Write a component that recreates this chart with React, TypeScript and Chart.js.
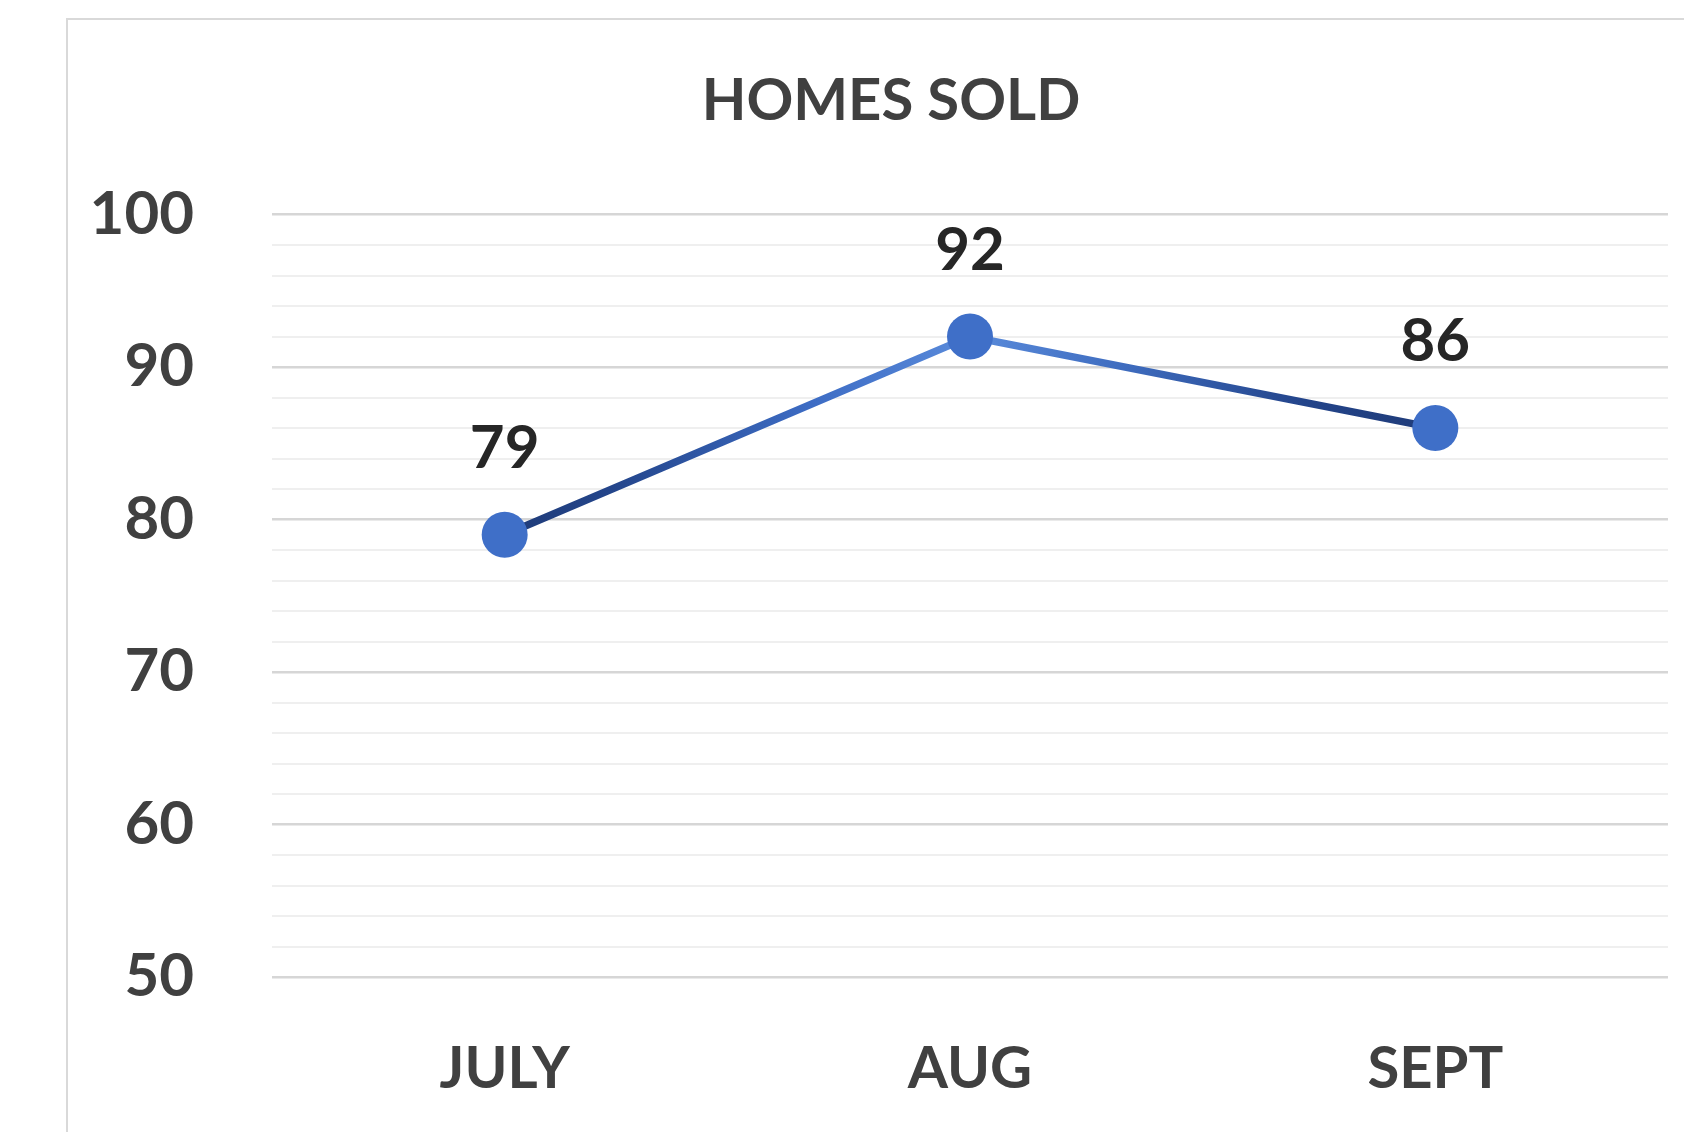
import React, { useEffect, useRef } from 'react';
import { Chart, registerables } from 'chart.js';

Chart.register(...registerables);

// ---- data ----
const TITLE = 'HOMES SOLD';
const MONTHS = ['JULY', 'AUG', 'SEPT'];
const HOMES_SOLD = [79, 92, 86];
const Y_TICK_LABELS = [50, 60, 70, 80, 90, 100];
const Y_MIN = 50;
const Y_MAX = 100;
const MINOR_STEP = 2;

const FONT = "Lato, 'Noto Sans', sans-serif";

const dataLabels = {
  id: 'dataLabels',
  afterDatasetsDraw(chart: any) {
    const ctx = chart.ctx;
    const meta = chart.getDatasetMeta(0);
    ctx.save();
    ctx.font = `bold 60px ${FONT}`;
    ctx.fillStyle = '#262626';
    ctx.textAlign = 'center';
    ctx.textBaseline = 'alphabetic';
    meta.data.forEach((pt: any, i: number) => {
      ctx.fillText(String(HOMES_SOLD[i]), pt.x, pt.y - 67);
    });
    ctx.restore();
  },
};

export default function App() {
  const ref = useRef<HTMLCanvasElement | null>(null);

  useEffect(() => {
    if (!ref.current) return;
    const chart = new Chart(ref.current, {
      type: 'line',
      data: {
        labels: MONTHS,
        datasets: [
          {
            label: TITLE,
            data: HOMES_SOLD,
            borderWidth: 7.5,
            borderColor: (c: any) => {
              const ch = c.chart;
              const { ctx, chartArea, scales } = ch;
              if (!chartArea || !scales.x) return '#4472C4';
              const x0 = scales.x.getPixelForValue(0);
              const x1 = scales.x.getPixelForValue(MONTHS.length - 1);
              const g = ctx.createLinearGradient(x0, 0, x1, 0);
              g.addColorStop(0, '#1F3B78');
              g.addColorStop(0.12, '#24468C');
              g.addColorStop(0.33, '#3D6CC4');
              g.addColorStop(0.5, '#5A8BDB');
              g.addColorStop(0.66, '#3F6DC0');
              g.addColorStop(0.86, '#23448A');
              g.addColorStop(1, '#1F3B78');
              return g;
            },
            pointRadius: 23,
            pointHoverRadius: 23,
            pointBackgroundColor: '#3F6FC8',
            pointBorderColor: '#3F6FC8',
            pointBorderWidth: 0,
            tension: 0,
          },
        ],
      },
      options: {
        responsive: true,
        maintainAspectRatio: false,
        animation: false,
        layout: { padding: { top: 0, left: 0, right: 0, bottom: 0 } },
        plugins: {
          legend: { display: false },
          tooltip: { enabled: false },
          title: {
            display: true,
            text: TITLE,
            color: '#404040',
            font: { family: FONT, size: 58, weight: 'bold' },
            padding: { top: 46, bottom: 79 },
          },
        },
        scales: {
          x: {
            offset: true,
            grid: { display: false, drawTicks: false },
            border: { display: false },
            ticks: {
              padding: 57,
              color: '#404040',
              font: { family: FONT, size: 58, weight: 'bold' },
            },
            afterFit: (s: any) => {
              s.height = 155;
            },
          },
          y: {
            min: Y_MIN,
            max: Y_MAX,
            border: { display: false },
            grid: {
              drawTicks: false,
              color: (c: any) =>
                c.tick && Y_TICK_LABELS.includes(c.tick.value) ? '#D6D6D6' : '#EFEFEF',
              lineWidth: (c: any) =>
                c.tick && Y_TICK_LABELS.includes(c.tick.value) ? 2.5 : 2,
            },
            ticks: {
              stepSize: MINOR_STEP,
              autoSkip: false,
              padding: 78,
              color: '#404040',
              font: { family: FONT, size: 60, weight: 'bold' },
              callback: (v: any) => (Y_TICK_LABELS.includes(Number(v)) ? String(v) : ''),
            },
            afterFit: (s: any) => {
              s.width = 204;
            },
          },
          yRight: {
            position: 'right',
            display: true,
            grid: { display: false, drawTicks: false },
            border: { display: false },
            ticks: { display: false },
            afterFit: (s: any) => {
              s.width = 46;
            },
          },
        },
      } as any,
      plugins: [dataLabels],
    });
    return () => chart.destroy();
  }, []);

  return (
    <div
      style={{
        position: 'absolute',
        left: 0,
        top: 0,
        width: 1684,
        height: 1132,
        overflow: 'hidden',
        background: '#ffffff',
      }}
    >
      <div
        style={{
          position: 'absolute',
          left: 66,
          top: 18,
          borderLeft: '2px solid #D9D9D9',
          borderTop: '2px solid #D9D9D9',
        }}
      >
        <div style={{ position: 'relative', width: 1646, height: 1112 }}>
          <canvas ref={ref} />
        </div>
      </div>
    </div>
  );
}
